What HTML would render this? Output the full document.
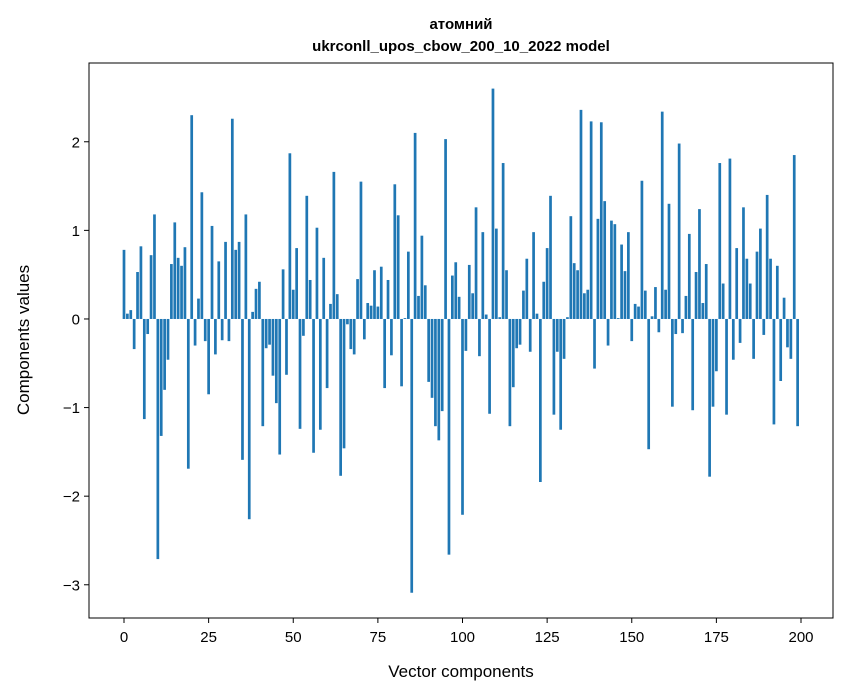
<!DOCTYPE html>
<html><head><meta charset="utf-8"><style>
body{margin:0;background:#fff}
svg{display:block;font-family:"Liberation Sans","DejaVu Sans",sans-serif}
</style></head><body>
<svg id="chart" width="847" height="696" viewBox="0 0 847 696" xmlns="http://www.w3.org/2000/svg">
<rect width="847" height="696" fill="#fff"/>
<text x="461" y="29" text-anchor="middle" font-size="15" font-weight="bold">атомний</text>
<text x="461" y="51" text-anchor="middle" font-size="15" font-weight="bold">ukrconll_upos_cbow_200_10_2022 model</text>
<g id="bars"></g>
<g id="axes"></g>
<rect x="89" y="63" width="744" height="555" fill="none" stroke="#000" stroke-width="1"/>
<text x="461" y="677" text-anchor="middle" font-size="17">Vector components</text>
<text transform="translate(29,340) rotate(-90)" text-anchor="middle" font-size="17">Components values</text>
</svg>
<script>
const values=[0.78,0.06,0.10,-0.34,0.53,0.82,-1.13,-0.17,0.72,1.18,-2.71,-1.32,-0.80,-0.46,0.62,1.09,0.69,0.60,0.81,-1.69,
2.30,-0.30,0.23,1.43,-0.25,-0.85,1.05,-0.40,0.65,-0.24,0.87,-0.25,2.26,0.78,0.87,-1.59,1.18,-2.26,0.08,0.34,
0.42,-1.21,-0.33,-0.29,-0.64,-0.95,-1.53,0.56,-0.63,1.87,0.33,0.80,-1.24,-0.19,1.39,0.44,-1.51,1.03,-1.25,0.69,
-0.78,0.17,1.66,0.28,-1.77,-1.46,-0.06,-0.34,-0.40,0.45,1.55,-0.23,0.18,0.15,0.55,0.14,0.59,-0.78,0.44,-0.41,
1.52,1.17,-0.76,0.01,0.76,-3.09,2.10,0.26,0.94,0.38,-0.71,-0.89,-1.21,-1.37,-1.04,2.03,-2.66,0.49,0.64,0.25,
-2.21,-0.36,0.61,0.29,1.26,-0.42,0.98,0.05,-1.07,2.60,1.02,0.02,1.76,0.55,-1.21,-0.77,-0.33,-0.29,0.32,0.68,
-0.37,0.98,0.06,-1.84,0.42,0.80,1.39,-1.08,-0.37,-1.25,-0.45,0.02,1.16,0.63,0.55,2.36,0.29,0.33,2.23,-0.56,
1.13,2.22,1.33,-0.30,1.11,1.07,0.01,0.84,0.54,0.98,-0.25,0.17,0.14,1.56,0.32,-1.47,0.03,0.36,-0.15,2.34,
0.33,1.30,-0.99,-0.17,1.98,-0.16,0.26,0.96,-1.03,0.53,1.24,0.18,0.62,-1.78,-0.99,-0.59,1.76,0.40,-1.08,1.81,
-0.46,0.80,-0.27,1.26,0.68,0.40,-0.45,0.76,1.02,-0.18,1.40,0.68,-1.19,0.60,-0.70,0.24,-0.32,-0.45,1.85,-1.21];
const xTicks=[0,25,50,75,100,125,150,175,200];
const yTicks=[-3,-2,-1,0,1,2];
const yTickLabels=["\u22123","\u22122","\u22121","0","1","2"];

const NS="http://www.w3.org/2000/svg";
const X0=89,X1=833,Y0=63,Y1=618;
const xMin=-10.34,xMax=209.45,yMin=-3.375,yMax=2.889;
function xs(v){return X0+(v-xMin)/(xMax-xMin)*(X1-X0);}
function ys(v){return Y1-(v-yMin)/(yMax-yMin)*(Y1-Y0);}
const bars=document.getElementById('bars');
values.forEach((v,i)=>{
  const r=document.createElementNS(NS,'rect');
  
  
  const xa=xs(i-0.4),xb=xs(i+0.4);
  r.setAttribute('x',xa);r.setAttribute('width',xb-xa);
  r.setAttribute('y',Math.min(ys(v),ys(0)));
  r.setAttribute('height',Math.abs(ys(v)-ys(0)));
  r.setAttribute('fill','#1f77b4');
  bars.appendChild(r);
});
const axes=document.getElementById('axes');
xTicks.forEach(t=>{
  const l=document.createElementNS(NS,'line');
  
  
  l.setAttribute('x1',xs(t));l.setAttribute('x2',xs(t));
  l.setAttribute('y1',Y1);l.setAttribute('y2',Y1+5);
  l.setAttribute('stroke','#000');
  axes.appendChild(l);
  const tx=document.createElementNS(NS,'text');
  
  
  tx.setAttribute('x',xs(t));tx.setAttribute('y',Y1+24);
  tx.setAttribute('text-anchor','middle');tx.setAttribute('font-size','15');
  tx.textContent=String(t);
  axes.appendChild(tx);
});
yTicks.forEach((t,k)=>{
  const l=document.createElementNS(NS,'line');
  
  
  l.setAttribute('x1',X0-5);l.setAttribute('x2',X0);
  l.setAttribute('y1',ys(t));l.setAttribute('y2',ys(t));
  l.setAttribute('stroke','#000');
  axes.appendChild(l);
  const tx=document.createElementNS(NS,'text');
  
  
  tx.setAttribute('x',X0-9);tx.setAttribute('y',ys(t)+5.5);
  tx.setAttribute('text-anchor','end');tx.setAttribute('font-size','15');
  tx.textContent=yTickLabels[k];
  axes.appendChild(tx);
});
</script>
</body></html>
